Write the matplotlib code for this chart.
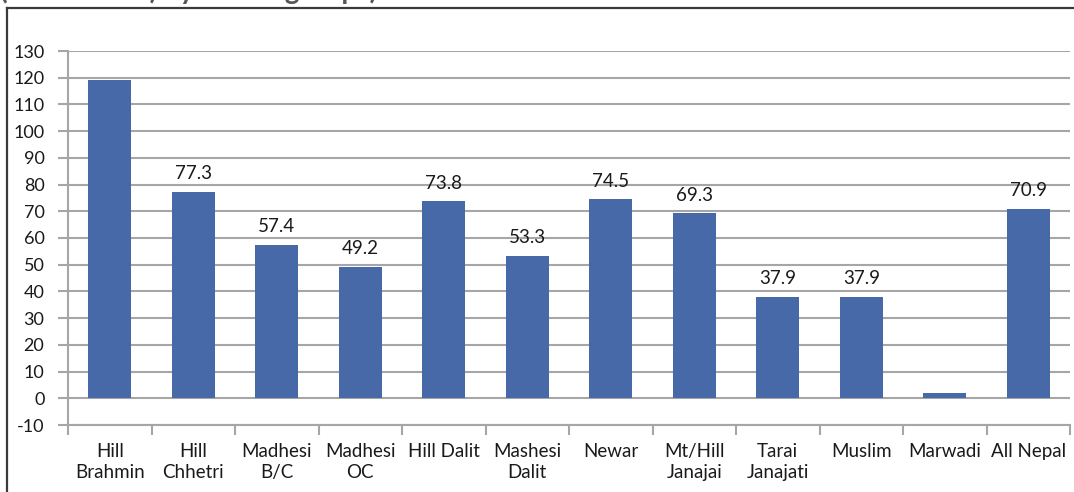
import numpy as np
import matplotlib
matplotlib.use("Agg")
import matplotlib.pyplot as plt
from matplotlib.lines import Line2D

groups = ["Hill\nBrahmin", "Hill\nChhetri", "Madhesi\nB/C", "Madhesi\nOC", "Hill Dalit",
          "Mashesi\nDalit", "Newar", "Mt/Hill\nJanajai", "Tarai\nJanajati", "Muslim",
          "Marwadi", "All Nepal"]
values = [119.3, 77.3, 57.4, 49.2, 73.8, 53.3, 74.5, 69.3, 37.9, 37.9, 2.0, 70.9]
labels = ["", "77.3", "57.4", "49.2", "73.8", "53.3", "74.5", "69.3", "37.9", "37.9", "", "70.9"]

plt.rcParams['font.family'] = ['Lato', 'DejaVu Sans']
plt.rcParams['axes.unicode_minus'] = False

fig = plt.figure(figsize=(10.74, 4.92), dpi=100)
ax = fig.add_axes([68/1074, 1-425/492, (1070-68)/1074, (425-51)/492])

x = np.arange(len(groups))
ax.bar(x, values, width=0.51, color='#4769A8', zorder=3)
for xi, v, lab in zip(x, values, labels):
    if lab:
        ax.text(xi, v + 3.6, lab, ha='center', va='bottom', fontsize=13.5, color='#1a1a1a', zorder=4)

ax.set_ylim(-10, 130)
ax.set_xlim(-0.47, 11.5)
ax.set_yticks(np.arange(-10, 131, 10))
ax.yaxis.grid(True, color='#a6a6a6', linewidth=1.5, zorder=0)
ax.set_xticks(np.arange(-0.5, 12, 1))
ax.set_xticklabels([])
ax.set_xticks(x, minor=True)
ax.set_xticklabels(groups, minor=True, fontsize=13.5, color='#1a1a1a', linespacing=1.3)
ax.tick_params(axis='x', which='minor', length=0, pad=13)
ax.tick_params(axis='x', which='major', length=7, width=1.5, color='#a6a6a6')
ax.tick_params(axis='y', length=7, width=1.5, color='#a6a6a6', labelsize=13,
               labelcolor='#1a1a1a', pad=10)
for s in ['top', 'right']:
    ax.spines[s].set_visible(False)
for s in ['left', 'bottom']:
    ax.spines[s].set_color('#a6a6a6')
    ax.spines[s].set_linewidth(1.5)

# outer frame (top and left visible)
fig.add_artist(Line2D([7/1074, 1], [1-8/492, 1-8/492], color='#3a3a3a', linewidth=1.6))
fig.add_artist(Line2D([7/1074, 7/1074], [0, 1-8/492], color='#3a3a3a', linewidth=1.6))

# title, cut off at the top edge (only descenders show)
fig.text(0.0, 1 + 1/492, "(Index value) by ethnic groups)", fontsize=20, fontweight='bold',
         color='#555555', ha='left', va='baseline')

fig.savefig("out.png", dpi=100)
